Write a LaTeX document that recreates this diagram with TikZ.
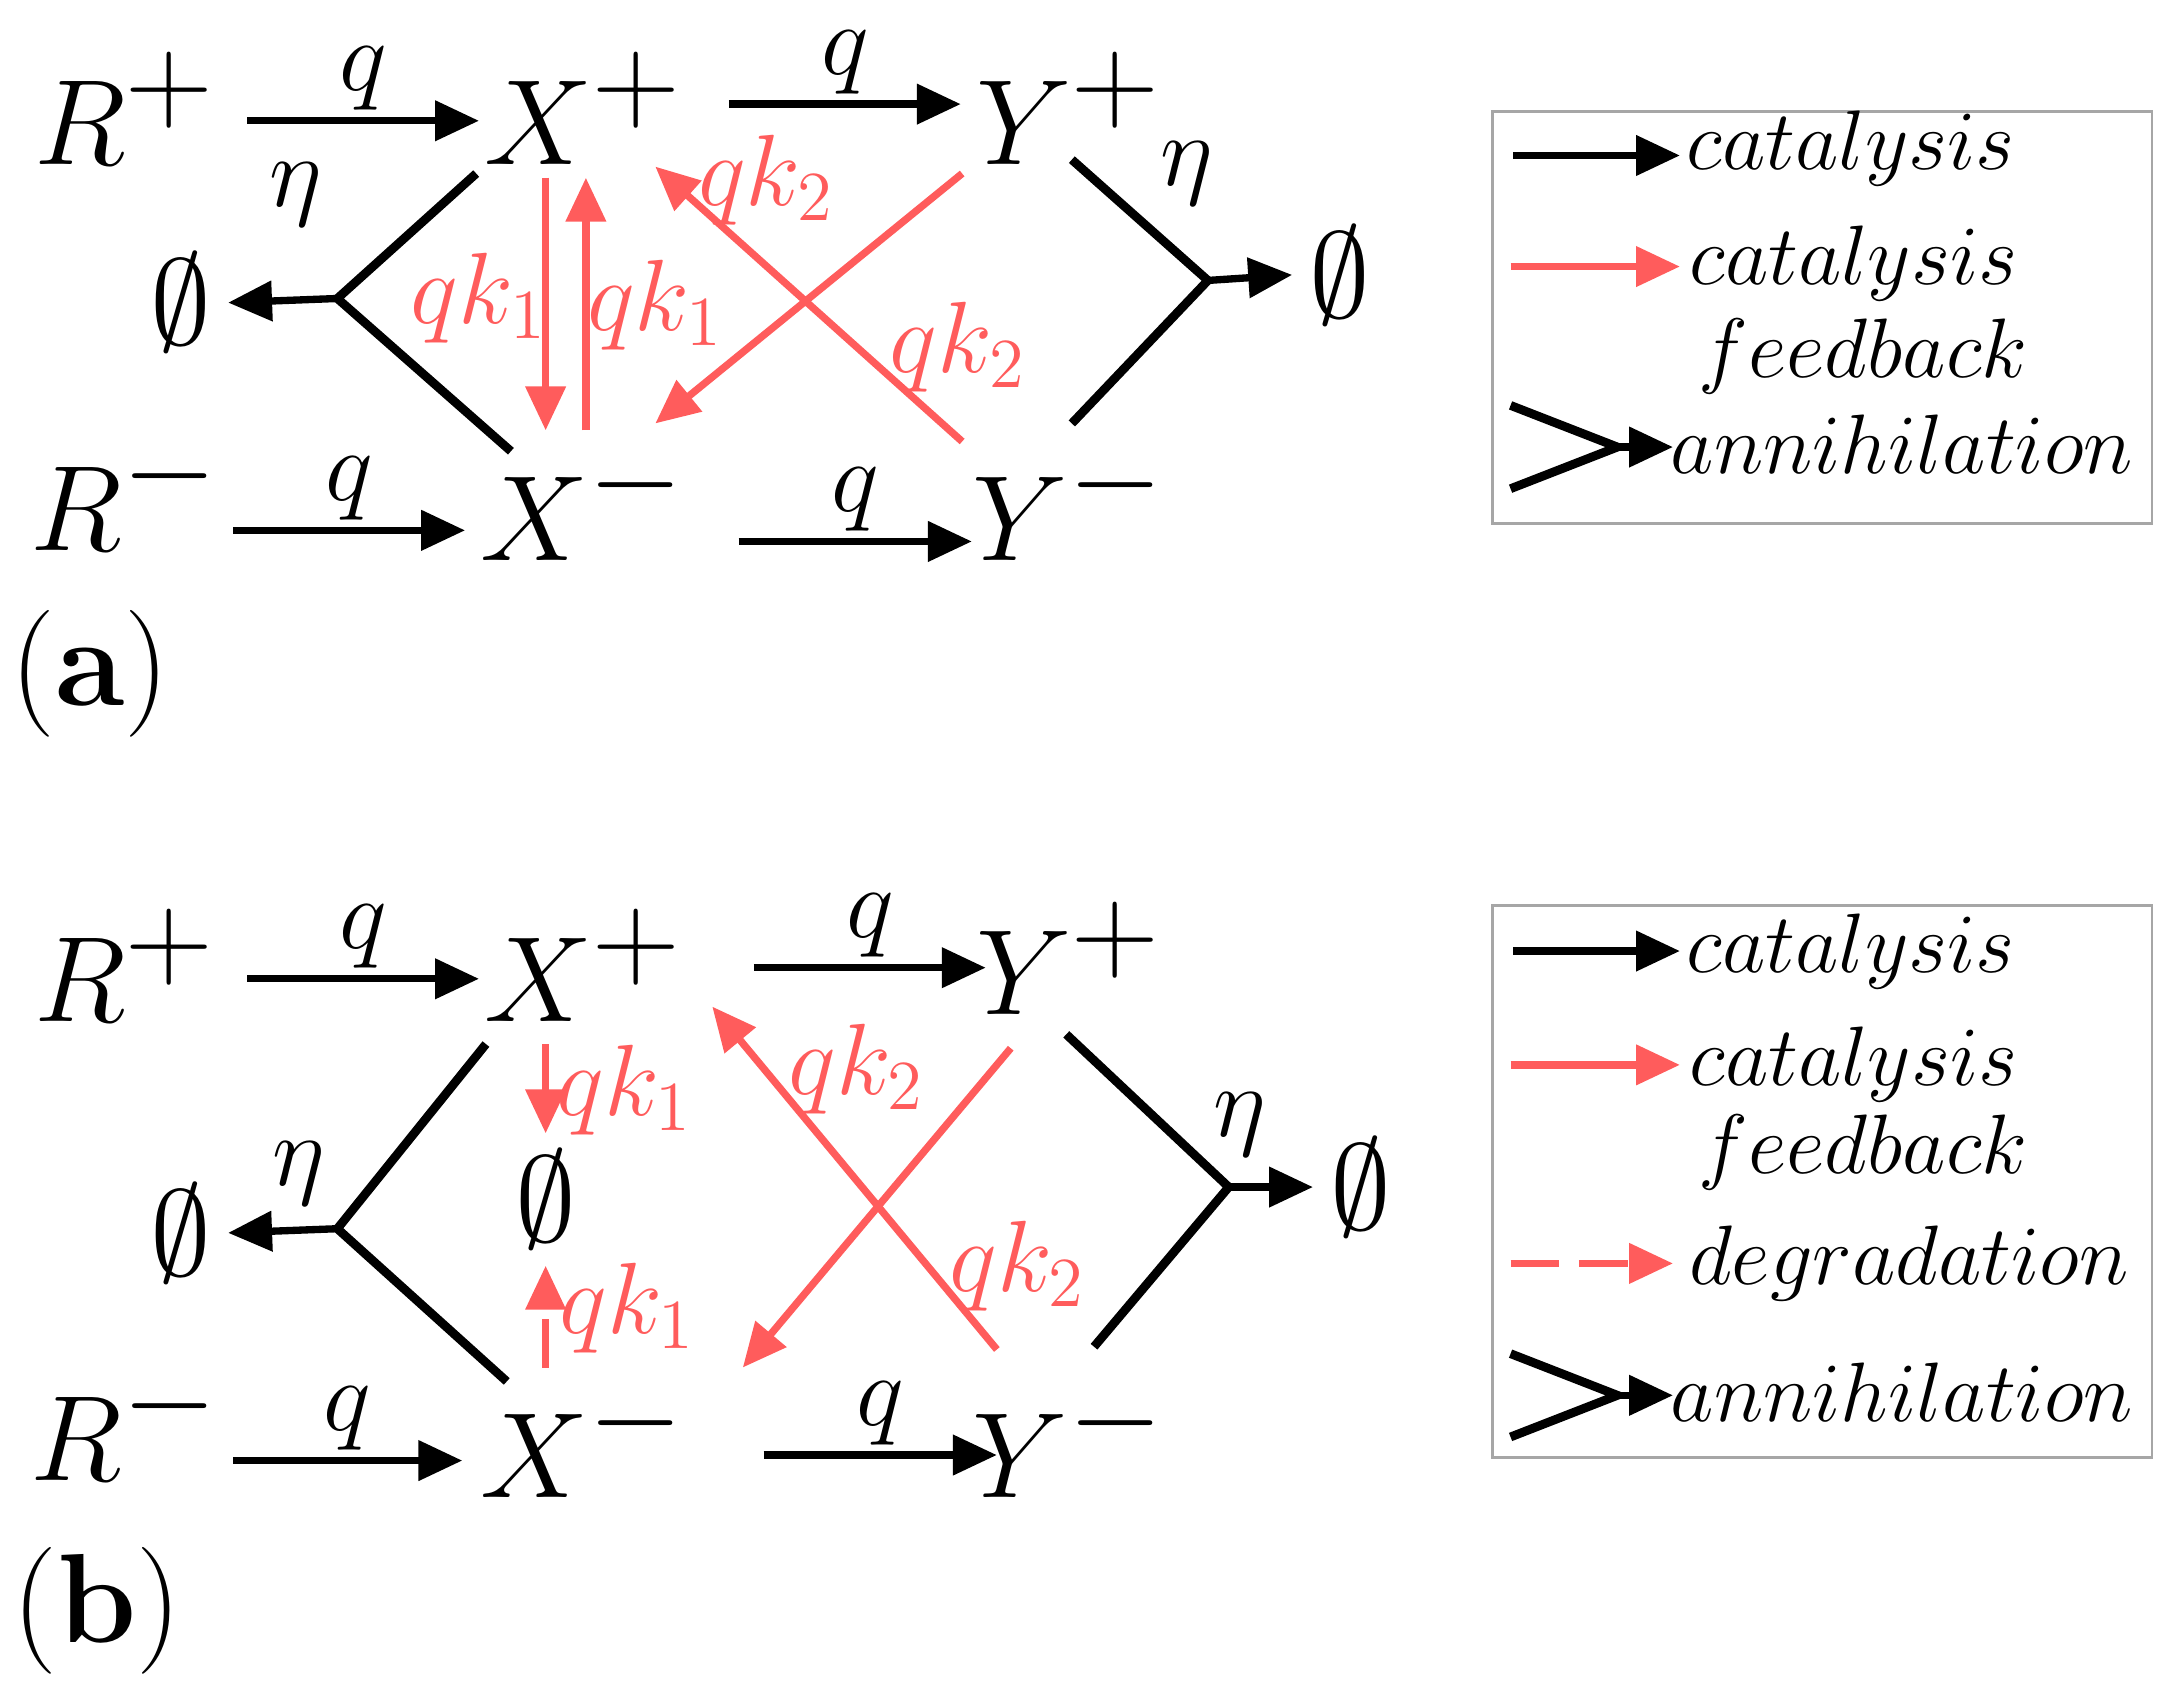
\documentclass[tikz,border=0pt]{standalone}
\usetikzlibrary{arrows.meta}
\definecolor{fbred}{RGB}{255,92,92}
\tikzset{
  sp/.style={font=\fontsize{38}{44}\selectfont},
  lab/.style={font=\fontsize{20}{24}\selectfont},
  rlab/.style={font=\fontsize{20}{24}\selectfont, text=fbred},
  leg/.style={font=\fontsize{16}{20}\selectfont, anchor=center},
  cat/.style={-{Triangle[length=9pt,width=8pt]}, line width=1.5pt},
  fb/.style={cat, fbred},
  ann/.style={line width=1.8pt},
}
\begin{document}
\begin{tikzpicture}[x=0.01cm,y=-0.01cm]
    \useasboundingbox (0,0) rectangle (1568,1222);

    % ---------- panel (a) ----------
    \node[sp] (Rpa) at (90,78) {$R^+$};
    \node[sp] (Xpa) at (420,78) {$X^+$};
    \node[sp] (Ypa) at (770,78) {$Y^+$};
    \node[sp] (Rma) at (90,355) {$R^-$};
    \node[sp] (Xma) at (420,362) {$X^-$};
    \node[sp] (Yma) at (770,362) {$Y^-$};
    \node[sp] (Ela) at (130,218) {$\emptyset$};
    \node[sp] (Era) at (965,198) {$\emptyset$};

    % catalysis
    \coordinate (a1) at (178,87);  \coordinate (a2) at (345,87);
    \coordinate (a3) at (525,75);  \coordinate (a4) at (692,75);
    \coordinate (a5) at (168,382); \coordinate (a6) at (335,382);
    \coordinate (a7) at (532,390); \coordinate (a8) at (700,390);
    \draw[cat] (a1) -- (a2) node[lab, midway, above=-2pt] {$q$};
    \draw[cat] (a3) -- (a4) node[lab, midway, above=-2pt] {$q$};
    \draw[cat] (a5) -- (a6) node[lab, midway, above=-2pt] {$q$};
    \draw[cat] (a7) -- (a8) node[lab, midway, above=-2pt] {$q$};

    % annihilation
    \coordinate (jla) at (243,215); \coordinate (jra) at (870,202);
    \draw[ann] (343,125) -- (jla) -- (368,325);
    \draw[cat] (jla) -- (Ela.east);
    \node[lab] (eta1) at (213,140) {$\eta$};
    \draw[ann] (772,115) -- (jra) -- (772,305);
    \draw[cat] (jra) -- (Era.west);
    \node[lab] (eta2) at (855,125) {$\eta$};

    % feedback
    \draw[fb] (393,128) -- (393,310);
    \draw[fb] (422,310) -- (422,128);
    \node[rlab] (k1a) at (345,215) {$qk_1$};
    \node[rlab] (k1b) at (472,220) {$qk_1$};
    \draw[fb] (693,125) -- (472,305);
    \draw[fb] (693,318) -- (472,120);
    \node[rlab] (k2a) at (552,130) {$qk_2$};
    \node[rlab] (k2b) at (690,250) {$qk_2$};

    % legend
    \draw[gray!70, line width=0.6pt] (1075,80) rectangle (1550,377);
    \draw[cat] (1090,112) -- (1210,112);
    \node[leg] (l1) at (1333,107) {$catalysis$};
    \draw[fb] (1088,192) -- (1210,192);
    \node[leg] (l2) at (1335,190) {$catalysis$};
    \node[leg] (l3) at (1342,257) {$feedback$};
    \draw[ann] (1088,292) -- (1165,322) -- (1088,352);
    \draw[cat] (1165,322) -- (1205,322);
    \node[leg] (l4) at (1370,320) {$annihilation$};

    \node[font=\fontsize{26}{32}\selectfont] (pa) at (65,485) {(\textbf{a})};

    % ---------- panel (b) ----------
    \node[sp] (Rpb) at (90,695) {$R^+$};
    \node[sp] (Xpb) at (420,695) {$X^+$};
    \node[sp] (Ypb) at (770,690) {$Y^+$};
    \node[sp] (Rmb) at (90,1025) {$R^-$};
    \node[sp] (Xmb) at (420,1037) {$X^-$};
    \node[sp] (Ymb) at (770,1037) {$Y^-$};
    \node[sp] (Elb) at (130,888) {$\emptyset$};
    \node[sp] (Erb) at (980,855) {$\emptyset$};
    \node[sp] (Ecb) at (393,864) {$\emptyset$};

    % catalysis
    \coordinate (b1) at (178,705);  \coordinate (b2) at (345,705);
    \coordinate (b3) at (543,697);  \coordinate (b4) at (710,697);
    \coordinate (b5) at (168,1052); \coordinate (b6) at (333,1052);
    \coordinate (b7) at (550,1048); \coordinate (b8) at (718,1048);
    \draw[cat] (b1) -- (b2) node[lab, midway, above=-2pt] {$q$};
    \draw[cat] (b3) -- (b4) node[lab, midway, above=-2pt] {$q$};
    \draw[cat] (b5) -- (b6) node[lab, midway, above=-2pt] {$q$};
    \draw[cat] (b7) -- (b8) node[lab, midway, above=-2pt] {$q$};

    % annihilation
    \coordinate (jlb) at (243,885); \coordinate (jrb) at (885,855);
    \draw[ann] (350,752) -- (jlb) -- (365,995);
    \draw[cat] (jlb) -- (Elb.east);
    \node[lab] (eta3) at (215,845) {$\eta$};
    \draw[ann] (768,745) -- (jrb) -- (788,970);
    \draw[cat] (jrb) -- (Erb.west);
    \node[lab] (eta4) at (893,810) {$\eta$};

    % degradation and feedback
    \draw[fb, dash pattern=on 10pt off 4pt] (393,752) -- (Ecb.north);
    \draw[fb, dash pattern=on 10pt off 4pt] (393,985) -- (Ecb.south);
    \node[rlab] (k1c) at (450,785) {$qk_1$};
    \node[rlab] (k1d) at (452,942) {$qk_1$};
    \draw[fb] (728,755) -- (535,985);
    \draw[fb] (718,972) -- (513,725);
    \node[rlab] (k2c) at (617,770) {$qk_2$};
    \node[rlab] (k2d) at (733,912) {$qk_2$};

    % legend
    \draw[gray!70, line width=0.6pt] (1075,652) rectangle (1550,1050);
    \draw[cat] (1090,685) -- (1210,685);
    \node[leg] (m1) at (1333,685) {$catalysis$};
    \draw[fb] (1088,767) -- (1210,767);
    \node[leg] (m2) at (1335,767) {$catalysis$};
    \node[leg] (m3) at (1342,830) {$feedback$};
    \draw[fb, dash pattern=on 10pt off 4pt] (1088,910) -- (1205,910);
    \node[leg] (m4) at (1375,910) {$degradation$};
    \draw[ann] (1088,975) -- (1165,1005) -- (1088,1035);
    \draw[cat] (1165,1005) -- (1205,1005);
    \node[leg] (m5) at (1370,1003) {$annihilation$};

    \node[font=\fontsize{26}{32}\selectfont] (pb) at (70,1160) {(\textbf{b})};
\end{tikzpicture}
\end{document}
